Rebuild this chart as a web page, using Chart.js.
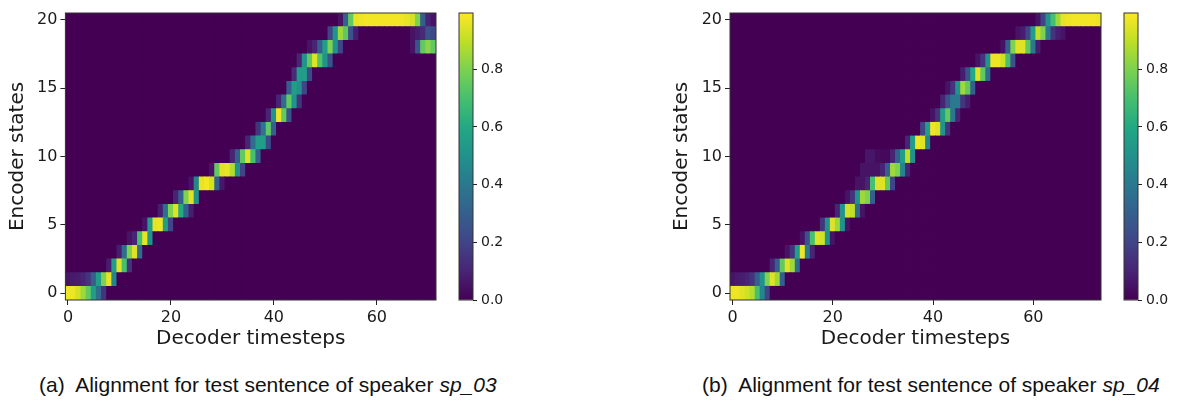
<!DOCTYPE html>
<html>
<head>
<meta charset="utf-8">
<script src="https://cdn.jsdelivr.net/npm/chart.js@4.4.0/dist/chart.umd.min.js"></script>
<style>
  html, body { margin: 0; padding: 0; background: #fff; }
  #page { position: relative; width: 1179px; height: 401px; overflow: hidden; }
  canvas { position: absolute; top: 0; }
  .caption { position: absolute; top: 373px; font-family: 'Liberation Sans', Arial, sans-serif; font-size: 21px; color: #111; white-space: nowrap; }
</style>
</head>
<body>
<div id="page">
  <canvas id="mapA" width="445" height="360" style="left:0px"></canvas>
  <canvas id="barA" width="70" height="360" style="left:450px"></canvas>
  <canvas id="mapB" width="450" height="360" style="left:660px"></canvas>
  <canvas id="barB" width="64" height="360" style="left:1115px"></canvas>
  <div class="caption" style="left:39px">(a)&nbsp; Alignment for test sentence of speaker <i>sp_03</i></div>
  <div class="caption" style="left:702px">(b)&nbsp; Alignment for test sentence of speaker <i>sp_04</i></div>
</div>
<script>
const encoderStates = [0, 1, 2, 3, 4, 5, 6, 7, 8, 9, 10, 11, 12, 13, 14, 15, 16, 17, 18, 19, 20];
const stepsA = 72; // decoder timesteps, speaker sp_03
const stepsB = 74; // decoder timesteps, speaker sp_04
const xTicks = [0, 20, 40, 60];
const yTicks = [0, 5, 10, 15, 20];
const cbTicks = [0, 0.2, 0.4, 0.6, 0.8];
const cbMax = 0.995;

// viridis colormap
const viridis = ['#440154', '#482475', '#414487', '#355f8d', '#2a788e', '#21918c',
                 '#22a884', '#44bf70', '#7ad151', '#bddf26', '#fde725'];

// one row per encoder state: [first decoder step, weights...], everything else is 0
const alignA = [
    [0, 0.97, 0.97, 0.93, 0.85, 0.75, 0.55, 0.35, 0.15],
    [0, 0.05, 0.07, 0.08, 0.1, 0.15, 0.3, 0.55, 0.8, 0.96, 0.45],
    [8, 0.08, 0.55, 0.95, 0.7, 0.15],
    [10, 0.08, 0.35, 0.8, 0.95, 0.35],
    [12, 0.05, 0.1, 0.7, 0.96, 0.5],
    [15, 0.05, 0.55, 0.96, 0.97, 0.55, 0.2],
    [18, 0.08, 0.35, 0.8, 0.95, 0.6, 0.3, 0.08],
    [21, 0.1, 0.3, 0.8, 0.95, 0.5],
    [24, 0.05, 0.45, 0.96, 0.98, 0.93, 0.3, 0.06],
    [28, 0.05, 0.75, 0.95, 0.96, 0.88, 0.5, 0.2],
    [32, 0.1, 0.3, 0.75, 0.95, 0.7, 0.3],
    [35, 0.1, 0.35, 0.55, 0.55, 0.22],
    [37, 0.15, 0.38, 0.75, 0.3],
    [39, 0.1, 0.5, 0.97, 0.75, 0.25],
    [41, 0.1, 0.35, 0.75, 0.5, 0.15],
    [43, 0.3, 0.55, 0.5, 0.2],
    [44, 0.12, 0.55, 0.55, 0.22],
    [45, 0.1, 0.5, 0.75, 0.95, 0.72, 0.5, 0.25],
    [47, 0.05, 0.1, 0.3, 0.55, 0.8, 0.5, 0.2, 0, 0, 0, 0, 0, 0, 0, 0, 0, 0, 0, 0, 0, 0.05, 0.25, 0.75, 0.82, 0.75],
    [51, 0.2, 0.5, 0.85, 0.75, 0.25, 0.08, 0, 0, 0, 0, 0, 0, 0, 0, 0, 0, 0.05, 0.08, 0.12, 0.25, 0.22],
    [53, 0.05, 0.3, 0.75, 0.96, 0.97, 0.98, 0.98, 0.98, 0.98, 0.98, 0.98, 0.98, 0.97, 0.96, 0.93, 0.8, 0.3, 0.1, 0.05]
];

const alignB = [
    [0, 0.97, 0.97, 0.95, 0.92, 0.88, 0.7, 0.45, 0.2],
    [0, 0.05, 0.07, 0.08, 0.1, 0.15, 0.3, 0.5, 0.8, 0.95, 0.85, 0.3],
    [8, 0.1, 0.3, 0.75, 0.95, 0.85, 0.35],
    [11, 0.05, 0.15, 0.55, 0.97, 0.4, 0.1],
    [14, 0.05, 0.25, 0.7, 0.95, 0.93, 0.5, 0.05],
    [18, 0.15, 0.5, 0.95, 0.85, 0.5, 0.05],
    [21, 0.1, 0.5, 0.93, 0.9, 0.35, 0.05],
    [23, 0.05, 0.15, 0.5, 0.85, 0.8, 0.3],
    [25, 0.05, 0.05, 0.1, 0.7, 0.95, 0.95, 0.75, 0.2],
    [26, 0.05, 0.05, 0.05, 0.05, 0.1, 0.3, 0.85, 0.8, 0.45, 0.1],
    [27, 0.06, 0.06, 0.03, 0.02, 0.02, 0.1, 0.3, 0.55, 0.9, 0.5],
    [35, 0.1, 0.55, 0.97, 0.95, 0.45],
    [38, 0.2, 0.55, 0.97, 0.95, 0.5, 0.15],
    [40, 0.05, 0.15, 0.55, 0.75, 0.4, 0.1],
    [42, 0.1, 0.25, 0.4, 0.4, 0.15, 0.08],
    [43, 0.05, 0.15, 0.5, 0.85, 0.75, 0.3],
    [46, 0.08, 0.25, 0.6, 0.95, 0.75, 0.35],
    [49, 0.05, 0.15, 0.5, 0.97, 0.97, 0.92, 0.7, 0.25],
    [54, 0.05, 0.3, 0.8, 0.95, 0.95, 0.75, 0.4, 0.08],
    [57, 0.05, 0.08, 0.2, 0.55, 0.9, 0.8, 0.4, 0.15, 0.08, 0.05],
    [61, 0.05, 0.2, 0.5, 0.7, 0.85, 0.96, 0.97, 0.98, 0.98, 0.98, 0.98, 0.98, 0.97]
];

const textColor = '#1a1a1a';
const tickFont = { family: 'DejaVu Sans', size: 16 };
const titleFont = { family: 'DejaVu Sans', size: 20 };
const cbFont = { family: 'DejaVu Sans', size: 14 };

const viridisRGB = viridis.map(h => [1, 3, 5].map(i => parseInt(h.slice(i, i + 2), 16)));

function colorFor(v) {
    const t = Math.min(Math.max(v / cbMax, 0), 1) * (viridisRGB.length - 1);
    const i = Math.min(Math.floor(t), viridisRGB.length - 2);
    const f = t - i;
    const a = viridisRGB[i], b = viridisRGB[i + 1];
    return 'rgb(' + a.map((c, k) => Math.round(c + (b[k] - c) * f)).join(',') + ')';
}

function weightAt(row, step) {
    const k = step - row[0] + 1;
    return (k >= 1 && k < row.length) ? row[k] : 0;
}

// thin frame round the plot area, like the matplotlib spines
const framePlugin = {
    id: 'frame',
    afterDraw(chart) {
        const { ctx, chartArea: a } = chart;
        ctx.save();
        ctx.strokeStyle = '#333';
        ctx.lineWidth = 1;
        ctx.strokeRect(a.left, a.top, a.right - a.left, a.bottom - a.top);
        ctx.restore();
    }
};

function buildDatasets(align, steps) {
    const decoderSteps = Array.from({ length: steps }, (_, i) => i);
    return encoderStates.map(state => ({
        label: 'state ' + state,
        data: decoderSteps.map(step => ({ x: step, y: [state - 0.5, state + 0.5] })),
        backgroundColor: decoderSteps.map(step => colorFor(weightAt(align[state], step))),
        borderWidth: 0,
        inflateAmount: 0.4,
        grouped: false,
        barPercentage: 1,
        categoryPercentage: 1
    }));
}

function drawMap(id, align, steps, axisWidth, rightPad, titlePad) {
    const canvas = document.getElementById(id);
    return new Chart(canvas, {
        type: 'bar',
        data: { datasets: buildDatasets(align, steps) },
        options: {
            responsive: false,
            animation: false,
            devicePixelRatio: 1,
            layout: { padding: { top: 13, right: rightPad, left: 0, bottom: 0 } },
            plugins: { legend: { display: false }, tooltip: { enabled: false } },
            scales: {
                x: {
                    type: 'linear',
                    min: -0.5,
                    max: steps - 0.5,
                    offset: false,
                    afterBuildTicks: s => { s.ticks = xTicks.map(v => ({ value: v })); },
                    afterFit: s => { s.height = 60; },
                    grid: { display: true, offset: false, drawOnChartArea: false, drawTicks: true, tickLength: 5, tickColor: '#222' },
                    border: { display: false },
                    ticks: { font: tickFont, color: textColor, padding: 3, maxRotation: 0, autoSkip: false },
                    title: { display: true, text: 'Decoder timesteps', font: titleFont, color: textColor, padding: { top: 0, bottom: 9 } }
                },
                y: {
                    type: 'linear',
                    min: -0.5,
                    max: 20.5,
                    afterBuildTicks: s => { s.ticks = yTicks.map(v => ({ value: v })); },
                    afterFit: s => { s.width = axisWidth; },
                    grid: { display: true, drawOnChartArea: false, drawTicks: true, tickLength: 5, tickColor: '#222' },
                    border: { display: false },
                    ticks: { font: tickFont, color: textColor, padding: 3, autoSkip: false },
                    title: { display: true, text: 'Encoder states', font: titleFont, color: textColor, padding: { top: titlePad, bottom: 0 } }
                }
            }
        },
        plugins: [framePlugin]
    });
}

function drawColorbar(id, axisWidth) {
    const canvas = document.getElementById(id);
    return new Chart(canvas, {
        type: 'bar',
        data: {
            labels: [''],
            datasets: [{
                data: [[0, cbMax]],
                backgroundColor: ctx => {
                    const area = ctx.chart.chartArea;
                    if (!area) return viridis[0];
                    const g = ctx.chart.ctx.createLinearGradient(0, area.bottom, 0, area.top);
                    viridis.forEach((c, i) => g.addColorStop(i / (viridis.length - 1), c));
                    return g;
                },
                borderWidth: 0,
                barPercentage: 1,
                categoryPercentage: 1
            }]
        },
        options: {
            responsive: false,
            animation: false,
            devicePixelRatio: 1,
            layout: { padding: { top: 13, bottom: 60, left: 9, right: 0 } },
            plugins: { legend: { display: false }, tooltip: { enabled: false } },
            scales: {
                x: { display: false },
                y: {
                    position: 'right',
                    min: 0,
                    max: cbMax,
                    afterBuildTicks: s => { s.ticks = cbTicks.map(v => ({ value: v })); },
                    afterFit: s => { s.width = axisWidth; },
                    grid: { display: true, drawOnChartArea: false, drawTicks: true, tickLength: 4, tickColor: '#222' },
                    border: { display: false },
                    ticks: { font: cbFont, color: textColor, padding: 4, callback: v => v.toFixed(1) }
                }
            }
        },
        plugins: [framePlugin]
    });
}

drawMap('mapA', alignA, stepsA, 65.4, 9, 5.5);
drawColorbar('barA', 47);
drawMap('mapB', alignB, stepsB, 70, 9, 10);
drawColorbar('barB', 41);
</script>
</body>
</html>
